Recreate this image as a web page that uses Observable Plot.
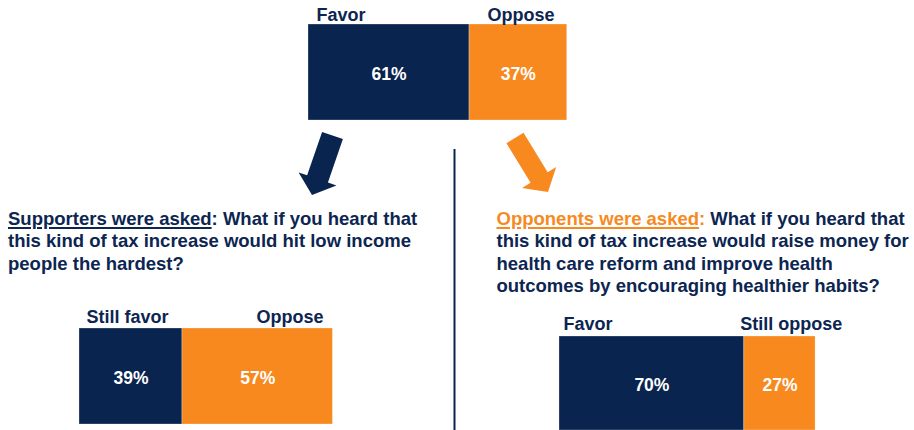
<!DOCTYPE html>
<html>
<head>
<meta charset="utf-8">
<script src="https://cdn.jsdelivr.net/npm/d3@7"></script>
<script src="https://cdn.jsdelivr.net/npm/@observablehq/plot@0.6"></script>
<style>
  html, body { margin: 0; padding: 0; background: #fff; }
  #chart { position: relative; width: 914px; height: 430px; overflow: hidden; background: #fff;
           font-family: "Liberation Sans", Arial, Helvetica, sans-serif; }
  #chart > svg, #chart > figure, #chart .layer { position: absolute; left: 0; top: 0; margin: 0; }
  .q { position: absolute; white-space: nowrap; font-weight: bold; font-size: 18.5px;
       line-height: 22.3px; color: #0c2551; }
  .u { text-decoration: underline; text-decoration-thickness: 1.5px; text-underline-offset: 2px; }
  .o { color: #f7891f; }
</style>
</head>
<body>
<div id="chart"></div>
<script>
// ---- data ----
const sides = ["favor", "oppose"];
const initialLabels = ["Favor", "Oppose"];
const initialValues = [61, 37];
const supporterLabels = ["Still favor", "Oppose"];
const supporterValues = [39, 57];
const opponentLabels = ["Favor", "Still oppose"];
const opponentValues = [70, 27];

const supporterLead = "Supporters were asked";
const supporterQuestion = [": What if you heard that", "this kind of tax increase would hit low income", "people the hardest?"];
const opponentLead = "Opponents were asked";
const opponentQuestion = [" What if you heard that", "this kind of tax increase would raise money for", "health care reform and improve health", "outcomes by encouraging healthier habits?"];

// ---- style / layout ----
const NAVY = "#09244e";
const ORANGE = "#f7891f";
const TEXT = "#0c2551";
const W = 914, H = 430, PX = 2.64, BAR_H = 96;
const FONT = "'Liberation Sans', Arial, Helvetica, sans-serif";

const chart = document.getElementById("chart");

function panel(labels, values, layout) {
  const rows = labels.map((label, i) => ({label, value: values[i], side: sides[i]}));
  const starts = [0, ...d3.cumsum(values)];
  const bottom = Math.max(0, H - layout.top - BAR_H);
  const labelMarks = rows.map((d, i) =>
    Plot.text([starts[i]], {
      x: v => v, text: () => d.label, frameAnchor: "top", textAnchor: "start",
      lineAnchor: "bottom", dx: layout.labelDx[i], dy: layout.labelDy,
      fill: TEXT, fontSize: 18, fontWeight: "bold"
    })
  );
  const svg = Plot.plot({
    width: W, height: H,
    marginLeft: layout.left, marginRight: W - layout.left - 100 * PX,
    marginTop: layout.top, marginBottom: bottom,
    x: {domain: [0, 100], axis: null},
    color: {domain: sides, range: [NAVY, ORANGE]},
    style: {background: "transparent", fontFamily: FONT, overflow: "visible"},
    marks: [
      Plot.barX(rows, Plot.stackX({x: "value", fill: "side", stroke: "#ffffff", strokeOpacity: 0.35, strokeWidth: 0.8})),
      Plot.text(rows, Plot.stackX({x: "value", text: d => `${d.value}%`, frameAnchor: "middle",
        fill: "white", fontSize: 17.5, fontWeight: "bold", dy: 1.5})),
      ...labelMarks
    ]
  });
  chart.appendChild(svg);
}

panel(initialLabels, initialValues, {left: 308, top: 24, labelDx: [8, 18], labelDy: -4});
panel(supporterLabels, supporterValues, {left: 79, top: 328, labelDx: [7, 74], labelDy: -5.5});
panel(opponentLabels, opponentValues, {left: 559, top: 336, labelDx: [4, -4], labelDy: -7});

// ---- decorations: arrows and divider ----
function arrow(tail, tip, shaftW, headW, headL) {
  const dx = tip[0] - tail[0], dy = tip[1] - tail[1];
  const len = Math.hypot(dx, dy);
  const ux = dx / len, uy = dy / len, px = -uy, py = ux;
  const hb = [tip[0] - ux * headL, tip[1] - uy * headL];
  const P = (b, s) => [b[0] + px * s, b[1] + py * s];
  return [P(tail, shaftW / 2), P(hb, shaftW / 2), P(hb, headW / 2), tip,
          P(hb, -headW / 2), P(hb, -shaftW / 2), P(tail, -shaftW / 2)]
    .map(p => p.join(",")).join(" ");
}
const ns = "http://www.w3.org/2000/svg";
const deco = document.createElementNS(ns, "svg");
deco.setAttribute("class", "layer");
deco.setAttribute("width", W);
deco.setAttribute("height", H);
deco.innerHTML =
  `<polygon points="${arrow([332.5, 135.5], [312, 195], 22, 40, 17)}" fill="${NAVY}"/>` +
  `<polygon points="${arrow([515, 138], [548, 192], 20, 40, 17)}" fill="${ORANGE}"/>` +
  `<line x1="454.5" y1="149" x2="454.5" y2="${H}" stroke="${NAVY}" stroke-width="2"/>`;
chart.appendChild(deco);

// ---- question texts ----
const left = document.createElement("div");
left.className = "q";
left.style.left = "8px"; left.style.top = "208px";
left.innerHTML = `<span class="u">${supporterLead}</span>${supporterQuestion.join("<br>")}`;
chart.appendChild(left);

const right = document.createElement("div");
right.className = "q";
right.style.left = "496.5px"; right.style.top = "208px";
right.innerHTML = `<span class="u o">${opponentLead}</span><span class="o">:</span>${opponentQuestion.join("<br>")}`;
chart.appendChild(right);
</script>
</body>
</html>
